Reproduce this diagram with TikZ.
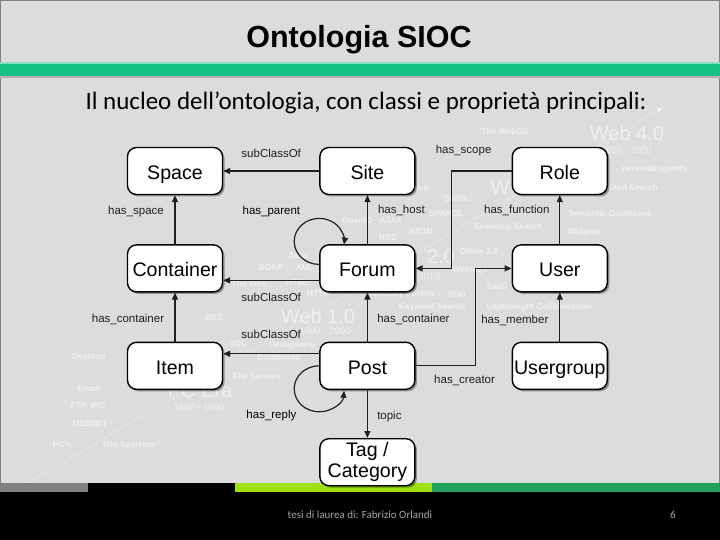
\documentclass[tikz,border=0pt]{standalone}
\usepackage{fontspec}
\setmainfont{Liberation Sans}
\newfontfamily\calibri{Carlito}
\usepackage{tikz}
\usetikzlibrary{arrows.meta, positioning, shadows}
\definecolor{slidebg}{HTML}{DCDCDC}
\definecolor{barteal}{HTML}{14C284}
\definecolor{barlight}{HTML}{86E2BE}
\definecolor{striplime}{HTML}{A0E012}
\definecolor{stripgreen}{HTML}{1FA05E}
\definecolor{stripgray}{HTML}{808080}
\definecolor{footgray}{HTML}{A6A6A6}
\definecolor{edgeblk}{HTML}{202020}
\tikzset{
  clsbase/.style={draw=black, line width=1.4pt, rounded corners=9pt, fill=white,
              minimum width=95pt, minimum height=47pt, inner sep=1pt, align=center,
              font=\fontsize{19.6}{21}\selectfont,
              drop shadow={shadow xshift=2pt, shadow yshift=-2pt, fill=black, opacity=0.35}},
  cls/.style={clsbase, text height=17.5pt, text depth=0.5pt},
  rel/.style={-{Triangle[length=7pt,width=6pt]}, line width=1.2pt, edgeblk},
  lbl/.style={font=\fontsize{11.5}{13}\selectfont, inner sep=0pt},
  faint/.style={text=white, text opacity=0.55, inner sep=0pt,
                font=\fontsize{8.5}{10}\selectfont\bfseries},
  faintnum/.style={faint, font=\fontsize{9.5}{10}\selectfont},
  faintbig/.style={faint, font=\fontsize{20}{22}\selectfont},
}

\begin{document}
\begin{tikzpicture}[x=1pt, y=-1pt, node distance=49pt and 96pt]
  \useasboundingbox (0,0) rectangle (720,540);

  %% Slide background
  \fill[black] (0,0) rectangle (720,540);
  \fill[slidebg] (0,0) rectangle (720,483);
  \draw[gray, line width=1.2pt] (0.6,483) -- (0.6,0.6) -- (719.4,0.6) -- (719.4,483);

  %% Title bar
  \fill[gray!60] (0,76) rectangle (720,78);
  \fill[barteal] (0,62) rectangle (720,76);
  \fill[barlight] (0,62) rectangle (720,64.5);
  \node[font=\fontsize{30.5}{32}\selectfont\bfseries] (title) at (359,40) {Ontologia SIOC};
  \node[font=\calibri\fontsize{25}{28}\selectfont] (subtitle) at (366,103)
    {Il nucleo dell’ontologia, con classi e proprietà principali:};

  %% Bottom strip and footer
  \fill[stripgray] (0,483) rectangle (88,492);
  \fill[striplime] (235,483) rectangle (432,492);
  \fill[stripgreen] (432,483) rectangle (720,492);
  \node[text=footgray, font=\calibri\fontsize{11}{12}\selectfont] (footer) at (360,515)
    {tesi di laurea di: Fabrizio Orlandi};
  \node[text=footgray, font=\calibri\fontsize{11}{12}\selectfont] (pagenum) at (673,515) {6};

  %% Faint background (web timeline)
  \coordinate (tlstart) at (30,482);
  \coordinate (tlend) at (662,108);
  \draw[white, opacity=0.5, dotted, line width=1.2pt,
        -{Triangle[length=5pt,width=5pt]}] (tlstart) -- (tlend);

  \node[faintbig] (bgweb4) at (627,133) {Web 4.0};
  \node[faintbig] (bgweb3) at (500,188) {W};
  \node[faintbig, anchor=east] (bgweb2) at (455,257) {2.0};
  \node[faintbig] (bgweb1) at (318,316) {Web 1.0};
  \node[faintbig] (bgpcera) at (200,391) {PC Era};

  \node[faintnum, anchor=east] (bgy2020) at (652,150) {2020 - 2030};
  \node[faintnum, anchor=east] (bgy2000) at (440,276) {2010};
  \node[faintnum] (bgy1990) at (325,331) {1990 - 2000};
  \node[faintnum] (bgy1980) at (199,407) {1980 - 1990};

  \node[faint] (bgwebos) at (505,131) {The WebOS};
  \node[faint, anchor=east] (bgagents) at (687,169) {personal agents};
  \node[faint, anchor=east] (bgdistr) at (658,187) {Distributed Search};
  \node[faint] (bgsemdb) at (610,213) {Semantic Databases};
  \node[faint] (bgwidgets) at (584,232) {Widgets};
  \node[faint] (bgsemsearch) at (508,226) {Semantic Search};
  \node[faint] (bgswrl) at (457,199) {SWRL};
  \node[faint] (bgsparql) at (446,214) {SPARQL};
  \node[faint] (bgajax) at (391,221) {AJAX};
  \node[faint] (bgopenid) at (357,221) {OpenID};
  \node[faint] (bgatom) at (421,232) {ATOM};
  \node[faint] (bgrss) at (388,238) {RSS};
  \node[faint, anchor=east] (bgsemweb) at (429,188) {Semantic Web};
  \node[faint] (bgoffice) at (479,251) {Office 2.0};
  \node[faint] (bgweblogs) at (470,270) {Weblogs};
  \node[faint] (bgjava) at (298,256) {Java};
  \node[faint] (bgsoap) at (271,268) {SOAP};
  \node[faint] (bgxml) at (305,268) {XML};
  \node[faint, anchor=east] (bgtheweb) at (267,283) {The Web};
  \node[faint] (bghtml) at (298,283) {HTML};
  \node[faint] (bghttp) at (318,294) {HTTP};
  \node[faint, anchor=east] (bgportals) at (435,294) {Directory Portals};
  \node[faint] (bgwiki) at (457,294) {Wiki};
  \node[faint] (bgsaas) at (497,287) {SaaS};
  \node[faint] (bgkeyword) at (432,307) {Keyword Search};
  \node[faint] (bglightweight) at (539,307) {Lightweight Collaboration};
  \node[faint] (bgbbs) at (214,318) {BBS};
  \node[faint] (bgsql) at (238,344) {SQL};
  \node[faint] (bggroupware) at (292,345) {Groupware};
  \node[faint] (bgdatabases) at (279,357) {Databases};
  \node[faint] (bgfileserv) at (257,376) {File Servers};
  \node[faint] (bgdesktop) at (89,357) {Desktop};
  \node[faint] (bgemail) at (89,388) {Email};
  \node[faint] (bgftp) at (88,406) {FTP\enspace IRC};
  \node[faint] (bgusenet) at (90,424) {USENET};
  \node[faint] (bgpcs) at (62,445) {PC's};
  \node[faint] (bgfilesys) at (129,445) {File Systems};

  %% Classes
  \node[cls] (space) at (175,171) {Space};
  \node[cls, right=of space] (site) {Site};
  \node[cls, right=of site] (role) {Role};
  \node[cls, below=of space] (container) {Container};
  \node[cls, right=of container] (forum) {Forum};
  \node[cls, right=of forum] (user) {User};
  \node[cls, below=of container] (item) {Item};
  \node[cls, right=of item] (post) {Post};
  \node[cls, right=of post] (usergroup) {Usergroup};
  \node[clsbase, below=48pt of post] (tag) {Tag /\\Category};

  %% subClassOf
  \draw[rel] (site) -- node[lbl, midway, yshift=18pt] (lsubsite) {subClassOf} (space);
  \draw[rel] ([yshift=-12pt]forum.west) --
    node[lbl, midway, yshift=-17pt] (lsubforum) {subClassOf} ([yshift=-12pt]container.east);
  \draw[rel] ([yshift=12pt]post.west) --
    node[lbl, midway, yshift=19pt] (lsubpost) {subClassOf} ([yshift=12pt]item.east);

  %% Properties
  \draw[rel] (container) -- node[lbl, midway, xshift=-39pt, yshift=8pt] (lspace) {has\_space} (space);
  \draw[rel] (forum) -- node[lbl, midway, xshift=34pt, yshift=9pt] (lhost) {has\_host} (site);
  \draw[rel] (item) -- node[lbl, midway, xshift=-47pt, yshift=-2pt] (lcontl) {has\_container} (container);
  \draw[rel] (post) -- node[lbl, midway, xshift=46pt, yshift=-2pt] (lcontr) {has\_container} (forum);
  \draw[rel] (post) -- node[lbl, midway, xshift=22pt, yshift=-2.5pt] (ltopic) {topic} (tag);
  \draw[rel] (user) -- node[lbl, midway, xshift=-43pt, yshift=9pt] (lfunction) {has\_function} (role);
  \draw[rel] (usergroup) -- node[lbl, midway, xshift=-45pt, yshift=-3pt] (lmember) {has\_member} (user);
  \draw[rel] (role.west) -- node[lbl, midway, xshift=-18pt, yshift=20pt] (lscope) {has\_scope}
    ++(-60pt,0) |- (forum.east);
  \draw[rel] (post.east) -- node[lbl, midway, xshift=19pt, yshift=-15pt] (lcreator) {has\_creator}
    ++(60pt,0) |- (user.west);

  %% Self loops
  \draw[rel] ([yshift=4pt]forum.west) arc[start angle=-90, end angle=-368, x radius=25pt, y radius=23pt];
  \node[lbl] (lparent) at ([xshift=-96pt, yshift=33pt]forum.north) {has\_parent};
  \draw[rel] (post.west) arc[start angle=90, end angle=355, x radius=25pt, y radius=23pt];
  \node[lbl] (lreply) at ([xshift=-96pt, yshift=-26pt]post.south) {has\_reply};

\end{tikzpicture}
\end{document}
